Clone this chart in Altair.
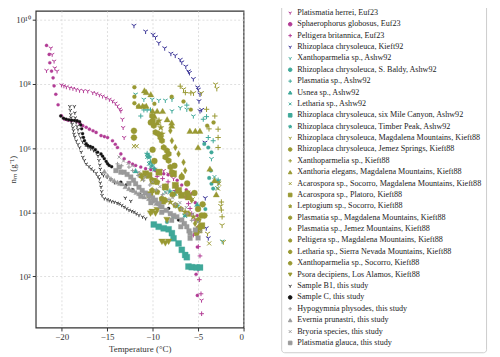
import math
import pandas as pd
import altair as alt

# ---------------- data: (temperature °C, log10 n_m) ----------------
PLATISMATIA_HERREI = [(-21.66, 8.42), (-21.19, 9.12), (-21.04, 8.92), (-20.83, 8.71), (-20.75, 8.50), (-20.5, 8.40),
    (-20.02, 7.97), (-19.75, 7.94), (-19.48, 7.91), (-19.1, 7.88), (-18.76, 7.86), (-18.4, 7.83), (-18.03, 7.80),
    (-17.6, 7.79), (-17.13, 7.78), (-16.58, 7.73), (-16.2, 7.70), (-15.85, 7.66), (-15.5, 7.62), (-15.13, 7.57),
    (-14.75, 7.52), (-14.41, 7.47), (-14.1, 7.40), (-13.86, 7.32), (-13.6, 7.22), (-13.49, 7.16), (-13.32, 6.90),
    (-13.24, 6.64), (-13.13, 6.33), (-9.87, 5.35), (-8.78, 5.30), (-8.24, 5.20), (-7.7, 5.05), (-7.33, 4.79),
    (-6.06, 4.63), (-5.0, 2.2), (-4.62, 1.26)]
SPHAEROPHORUS_GLOBOSUS = [(-21.66, 9.20), (-21.37, 8.92), (-21.3, 8.66), (-21.11, 8.40), (-20.94, 8.19), (-20.83, 7.94),
    (-20.64, 7.68), (-20.39, 7.35), (-20.02, 7.01), (-19.66, 6.90), (-19.3, 6.87), (-18.93, 6.85), (-18.32, 6.83),
    (-18.0, 6.77), (-17.67, 6.70), (-17.3, 6.65), (-16.94, 6.59), (-16.55, 6.54), (-16.21, 6.49), (-15.67, 6.39),
    (-15.3, 6.36), (-14.95, 6.33), (-14.41, 6.23), (-14.1, 6.12), (-13.86, 6.02), (-13.49, 5.82), (-13.13, 5.67),
    (-12.59, 5.56), (-12.2, 5.5), (-11.86, 5.46), (-11.3, 5.41), (-10.77, 5.36), (-10.2, 5.33), (-9.68, 5.30),
    (-9.2, 5.25), (-8.78, 5.20), (-8.3, 5.17), (-7.88, 5.15), (-7.3, 5.0), (-6.8, 4.85), (-6.3, 4.7), (-5.7, 4.58),
    (-5.3, 4.3), (-5.1, 3.9), (-5.08, 2.92), (-5.22, 2.07), (-5.08, 1.41)]
PELTIGERA_BRITANNICA = [(-9.5, 5.12), (-8.9, 5.05), (-8.3, 4.95), (-7.5, 4.68), (-6.42, 4.48), (-6.06, 4.27), (-5.88, 4.12),
    (-5.7, 3.96), (-5.33, 3.76), (-4.97, 3.55), (-5.52, 3.29), (-4.97, 2.93), (-4.79, 2.64), (-4.86, 1.90),
    (-4.68, 1.46), (-4.61, 0.84)]
RHIZOPLACA_KIEFT92 = [(-12.05, 9.82), (-10.77, 9.64), (-9.95, 9.54), (-9.68, 9.46), (-9.32, 9.28), (-8.67, 9.12),
    (-7.99, 8.95), (-7.51, 8.89), (-6.96, 8.76), (-6.79, 8.68), (-6.35, 8.55), (-6.06, 8.40), (-5.95, 8.35),
    (-5.52, 8.16), (-5.05, 7.90), (-4.97, 7.83), (-4.79, 7.68), (-4.90, 7.47), (-4.61, 7.20), (-4.79, 7.16),
    (-4.24, 6.18), (-4.21, 4.45), (-4.10, 3.51), (-3.88, 3.20)]
XANTHOPARMELIA_ASHW92 = [(-11.87, 7.68), (-10.96, 7.52), (-10.05, 7.52), (-9.32, 7.49), (-8.60, 7.49), (-7.87, 7.52),
    (-7.87, 7.16), (-6.96, 7.26), (-6.24, 7.21), (-5.52, 7.0), (-3.53, 5.67), (-2.8, 4.91), (-2.35, 3.1)]
RHIZOPLACA_SBALDY_ASHW92 = [(-4.32, 6.13), (-3.88, 6.02), (-3.53, 5.87), (-3.78, 5.07), (-3.53, 4.89), (-3.34, 4.74),
    (-8.42, 3.70), (-7.7, 3.86), (-4.2, 4.1), (-3.6, 5.3)]
PLASMATIA_ASHW92 = [(-10.96, 7.19), (-10.6, 7.19), (-10.23, 7.19), (-11.3, 7.0), (-6.24, 7.34), (-4.43, 6.9),
    (-4.07, 6.98), (-3.88, 6.33), (-3.34, 6.23)]
USNEA_ASHW92 = [(-11.87, 5.30), (-10.41, 5.77), (-7.6, 4.6), (-5.1, 4.25)]
LETHARIA_ASHW92 = [(-10.6, 5.72), (-10.41, 5.51), (-10.23, 5.41), (-8.6, 4.63), (-4.97, 4.17), (-3.2, 5.1),
    (-2.9, 4.75), (-6.5, 3.9)]
RHIZOPLACA_SIXMILE_ASHW92 = [(-9.87, 3.62), (-9.33, 3.55), (-8.78, 3.50), (-8.24, 3.47), (-7.88, 3.35), (-7.70, 3.19),
    (-7.15, 3.03), (-6.79, 2.83), (-6.42, 2.67), (-6.24, 2.60), (-6.06, 2.31), (-5.70, 2.29), (-5.16, 2.28),
    (-4.79, 2.28)]
RHIZOPLACA_TIMBER_ASHW92 = [(-10.6, 5.82), (-10.41, 5.72), (-10.23, 5.56), (-10.05, 5.46), (-9.8, 5.35), (-8.1, 4.65),
    (-7.3, 4.2), (-6.4, 3.9), (-2.8, 4.99)]
RHIZOPLACA_MAGDALENA_K88 = [(-3.08, 7.99), (-2.94, 7.86), (-6.6, 7.84), (-5.5, 7.72), (-4.65, 7.72), (-2.8, 4.94),
    (-3.96, 3.34), (-2.36, 3.60), (-2.22, 3.08), (-2.5, 4.2)]
RHIZOPLACA_JEMEZ_K88 = [(-12.0, 7.9), (-12.0, 7.6), (-12.0, 7.4), (-11.6, 7.3), (-10.9, 7.3), (-9.8, 7.38),
    (-7.9, 7.6), (-6.6, 7.45), (-5.8, 7.2), (-4.0, 6.7), (-3.3, 6.8)]
XANTHOPARMELIA_K88 = [(-6.96, 7.93), (-6.4, 7.73), (-5.8, 7.72), (-4.07, 7.21), (-3.16, 7.0), (-2.8, 6.59),
    (-2.8, 6.33), (-2.8, 6.02), (-2.44, 4.32), (-2.44, 4.07), (-2.36, 3.86), (-3.8, 6.6)]
XANTHORIA_K88 = [(-10.9, 7.8), (-10.7, 7.75), (-10.2, 7.68), (-11.5, 7.32), (-11.1, 7.32), (-10.7, 7.32),
    (-10.0, 7.16), (-9.5, 7.16), (-8.9, 7.16), (-9.8, 7.0), (-9.5, 6.8), (-7.9, 6.8), (-8.4, 6.9), (-7.9, 6.7),
    (-5.9, 6.54), (-5.3, 6.54), (-4.8, 6.54), (-5.0, 6.03), (-3.7, 5.36), (-3.2, 5.0), (-3.0, 4.56)]
ACAROSPORA_SOCORRO_K88 = [(-12.05, 6.06), (-11.75, 6.06), (-3.78, 3.03), (-2.69, 4.89), (-2.8, 4.74), (-7.0, 4.6),
    (-5.6, 4.4)]
ACAROSPORA_PLATORO_K88 = [(-10.77, 5.20), (-10.4, 5.15), (-9.3, 5.25), (-7.7, 5.2), (-9.9, 4.97), (-8.6, 4.79),
    (-7.5, 4.84), (-7.15, 4.68), (-6.8, 4.53), (-6.06, 4.48), (-10.3, 4.55), (-8.9, 4.35), (-4.6, 3.58), (-4.9, 3.45)]
LEPTOGIUM_K88 = [(-9.3, 6.85), (-9.1, 6.64), (-8.97, 6.44), (-11.1, 5.05), (-8.05, 4.32), (-6.42, 4.01), (-5.52, 3.86)]
PLASMATIA_MAGDALENA_K88 = [(-10.05, 7.0), (-9.98, 6.85), (-9.87, 6.70), (-9.68, 6.49), (-9.33, 6.44), (-9.14, 6.33),
    (-8.97, 6.23), (-8.78, 6.02), (-8.42, 5.92), (-8.24, 5.82), (-8.6, 5.72), (-8.24, 5.61), (-8.05, 5.41),
    (-7.88, 5.25)]
PLASMATIA_JEMEZ_K88 = [(-8.05, 6.54), (-7.88, 6.23), (-7.5, 6.02), (-7.15, 5.82), (-6.6, 5.56), (-6.42, 5.30),
    (-6.8, 5.15), (-5.7, 4.38), (-5.33, 3.65)]
PELTIGERA_MAGDALENA_K88 = [(-11.3, 5.15), (-10.05, 5.0), (-9.5, 4.94), (-10.05, 4.68), (-9.5, 4.63), (-8.97, 4.43),
    (-8.6, 4.38), (-7.5, 4.22), (-6.9, 4.1), (-6.06, 3.95), (-4.97, 3.76), (-4.79, 3.55), (-5.16, 3.34)]
LETHARIA_SIERRA_K88 = [(-12.05, 6.54), (-12.05, 6.33), (-8.6, 4.79), (-7.8, 4.55), (-6.2, 4.6), (-4.5, 4.25),
    (-4.3, 3.9)]
XANTHOPARMELIA_SOCORRO_K88 = [(-10.2, 6.8), (-10.0, 5.95), (-9.8, 5.6), (-7.6, 5.45), (-6.8, 5.1), (-6.2, 4.9),
    (-5.4, 4.6), (-5.0, 4.1), (-4.6, 3.9)]
PSORA_K88 = [(-10.23, 3.96), (-9.68, 3.96), (-10.05, 4.01), (-9.5, 4.07), (-8.42, 3.76), (-8.97, 3.08),
    (-8.6, 3.03), (-8.24, 3.08)]
SAMPLE_B1 = [(-19.1, 7.30), (-19.05, 7.18), (-19.0, 7.05), (-18.97, 6.95), (-18.93, 6.85), (-18.85, 6.75),
    (-18.76, 6.64), (-18.7, 6.55), (-18.65, 6.44), (-18.55, 6.35), (-18.39, 6.23), (-18.2, 6.12), (-18.03, 6.02),
    (-17.85, 5.88), (-17.67, 5.72), (-17.5, 5.62), (-17.30, 5.51), (-17.0, 5.43), (-16.76, 5.36), (-16.5, 5.30),
    (-16.21, 5.22), (-16.0, 5.12), (-15.85, 5.05), (-15.75, 4.92), (-15.67, 4.79), (-15.6, 4.65), (-15.56, 4.53),
    (-15.31, 4.43), (-15.0, 4.40), (-14.77, 4.37), (-14.5, 4.34), (-14.22, 4.32), (-13.9, 4.29), (-13.68, 4.27),
    (-13.4, 4.22), (-13.13, 4.17), (-12.85, 4.12), (-12.59, 4.07), (-12.3, 4.04), (-12.05, 4.01), (-11.8, 3.96),
    (-11.50, 3.91), (-11.1, 3.86), (-10.77, 3.81),
    (-18.6, 7.3), (-18.55, 7.1), (-18.5, 6.95), (-18.4, 6.8), (-18.3, 6.68), (-18.2, 6.58), (-18.1, 6.45),
    (-17.9, 6.33), (-17.7, 6.2), (-17.4, 6.1), (-17.1, 6.03), (-16.8, 5.98), (-16.5, 5.93), (-16.2, 5.86),
    (-16.0, 5.76), (-15.9, 5.62), (-15.8, 5.48), (-15.75, 5.35), (-15.6, 5.22), (-15.4, 5.15), (-15.0, 5.10),
    (-14.6, 5.02), (-14.2, 4.93), (-13.0, 4.45), (-12.4, 4.35)]
SAMPLE_C = [(-20.1, 7.0), (-19.8, 6.93), (-19.5, 6.9), (-19.2, 6.88), (-18.9, 6.87), (-18.6, 6.86), (-18.3, 6.85),
    (-18.03, 6.82), (-17.9, 6.72), (-17.8, 6.6), (-17.7, 6.45), (-17.6, 6.33), (-17.49, 6.23), (-17.3, 6.14),
    (-17.13, 6.08), (-16.85, 6.05), (-16.58, 6.02), (-16.3, 5.95), (-16.04, 5.87), (-15.67, 5.82), (-15.5, 5.75),
    (-15.31, 5.67), (-15.1, 5.58), (-14.95, 5.51), (-14.77, 5.46), (-14.5, 5.42), (-13.5, 4.94), (-12.9, 4.85),
    (-12.2, 4.7), (-11.4, 4.55), (-8.24, 4.12), (-7.15, 3.76), (-6.6, 3.65)]
HYPOGYMNIA = [(-13.86, 5.51), (-13.4, 5.45), (-12.6, 5.41), (-12.2, 5.3), (-11.6, 5.15), (-11.0, 5.0), (-10.3, 4.85),
    (-9.6, 4.7), (-8.9, 4.55), (-8.2, 4.4), (-7.5, 4.25), (-6.8, 4.1), (-6.2, 3.95), (-5.7, 3.75)]
EVERNIA = [(-15.3, 5.28), (-14.95, 5.15), (-14.58, 5.05), (-14.22, 4.99), (-13.86, 4.94), (-13.6, 4.9), (-13.32, 4.89),
    (-13.0, 4.8), (-12.6, 4.74), (-12.3, 4.7), (-12.05, 4.68), (-11.8, 4.62), (-11.5, 4.58), (-11.2, 4.52),
    (-10.9, 4.48), (-10.41, 4.43), (-10.0, 4.35), (-9.6, 4.28), (-9.2, 4.2)]
BRYORIA = [(-13.68, 5.72), (-13.2, 5.6), (-12.7, 5.52), (-12.2, 5.45), (-11.5, 5.25), (-10.8, 5.1), (-10.0, 4.95),
    (-9.2, 4.8), (-8.5, 4.6), (-7.8, 4.45), (-7.0, 4.3), (-6.3, 4.15), (-5.6, 3.95), (-5.0, 3.7), (-4.7, 3.4)]
PLATISMATIA_GLAUCA = [(-14.04, 5.30), (-13.68, 5.41), (-13.49, 5.25), (-13.13, 5.25), (-12.8, 5.18), (-12.4, 5.10),
    (-12.1, 5.0), (-11.87, 4.89), (-11.5, 4.78), (-11.14, 4.68), (-10.8, 4.6), (-10.41, 4.53), (-10.0, 4.45),
    (-9.68, 4.38), (-9.3, 4.27), (-8.97, 4.17), (-8.5, 4.06), (-8.05, 3.96), (-7.7, 3.9), (-7.33, 3.86),
    (-6.79, 3.76), (-6.5, 3.65), (-6.24, 3.55), (-6.0, 3.42), (-5.88, 3.34), (-5.88, 3.19), (-12.6, 4.9),
    (-11.3, 4.5), (-10.2, 4.3), (-9.0, 4.0), (-7.9, 3.75), (-6.9, 3.55), (-5.3, 3.45), (-5.0, 3.2)]

SERIES = [
    ("Platismatia herrei, Euf23", PLATISMATIA_HERREI),
    ("Sphaerophorus globosus, Euf23", SPHAEROPHORUS_GLOBOSUS),
    ("Peltigera britannica, Euf23", PELTIGERA_BRITANNICA),
    ("Rhizoplaca chrysoleuca, Kieft92", RHIZOPLACA_KIEFT92),
    ("Xanthoparmelia sp., Ashw92", XANTHOPARMELIA_ASHW92),
    ("Rhizoplaca chrysoleuca, S. Baldy, Ashw92", RHIZOPLACA_SBALDY_ASHW92),
    ("Plasmatia sp., Ashw92", PLASMATIA_ASHW92),
    ("Usnea sp., Ashw92", USNEA_ASHW92),
    ("Letharia sp., Ashw92", LETHARIA_ASHW92),
    ("Rhizoplaca chrysoleuca, six Mile Canyon, Ashw92", RHIZOPLACA_SIXMILE_ASHW92),
    ("Rhizoplaca chrysoleuca, Timber Peak, Ashw92", RHIZOPLACA_TIMBER_ASHW92),
    ("Rhizoplaca chrysoleuca, Magdalena Mountains, Kieft88", RHIZOPLACA_MAGDALENA_K88),
    ("Rhizoplaca chrysoleuca, Jemez Springs, Kieft88", RHIZOPLACA_JEMEZ_K88),
    ("Xanthoparmelia sp., Kieft88", XANTHOPARMELIA_K88),
    ("Xanthoria elegans, Magdalena Mountains, Kieft88", XANTHORIA_K88),
    ("Acarospora sp., Socorro, Magdalena Mountains, Kieft88", ACAROSPORA_SOCORRO_K88),
    ("Acarospora sp., Platoro, Kieft88", ACAROSPORA_PLATORO_K88),
    ("Leptogium sp., Socorro, Kieft88", LEPTOGIUM_K88),
    ("Plasmatia sp., Magdalena Mountains, Kieft88", PLASMATIA_MAGDALENA_K88),
    ("Plasmatia sp., Jemez Mountains, Kieft88", PLASMATIA_JEMEZ_K88),
    ("Peltigera sp., Magdalena Mountains, Kieft88", PELTIGERA_MAGDALENA_K88),
    ("Letharia sp., Sierra Nevada Mountains, Kieft88", LETHARIA_SIERRA_K88),
    ("Xanthoparmelia sp., Socorro, Kieft88", XANTHOPARMELIA_SOCORRO_K88),
    ("Psora decipiens, Los Alamos, Kieft88", PSORA_K88),
    ("Sample B1, this study", SAMPLE_B1),
    ("Sample C, this study", SAMPLE_C),
    ("Hypogymnia physodes, this study", HYPOGYMNIA),
    ("Evernia prunastri, this study", EVERNIA),
    ("Bryoria species, this study", BRYORIA),
    ("Platismatia glauca, this study", PLATISMATIA_GLAUCA),
]

# ---------------- styles ----------------
def poly(n, r=1.0, start=-90.0):
    pts = []
    for i in range(n):
        a = math.radians(start + 360.0 * i / n)
        pts.append(f"{r*math.cos(a):.3f},{r*math.sin(a):.3f}")
    return "M" + "L".join(pts) + "Z"

def star(r_out=1.0, r_in=0.4):
    pts = []
    for i in range(10):
        r = r_out if i % 2 == 0 else r_in
        a = math.radians(-90 + 36 * i)
        pts.append(f"{r*math.cos(a):.3f},{r*math.sin(a):.3f}")
    return "M" + "L".join(pts) + "Z"

TRI = "M0,0L0,1M0,0L-0.866,-0.5M0,0L0.866,-0.5"
PLUS = "M-1,0L1,0M0,-1L0,1"
XMARK = "M-0.75,-0.75L0.75,0.75M-0.75,0.75L0.75,-0.75"
MARKERS = {
    "1": (TRI, True), ".": ("circle", False), "+": (PLUS, True), "^": ("triangle-up", False),
    "x": (XMARK, True), "s": ("square", False), "*": (star(), False), "h": (poly(6), False),
    "d": ("M0,-1L0.6,0L0,1L-0.6,0Z", False), "p": (poly(5), False), "8": (poly(8), False),
    "o": ("circle", False), "v": ("triangle-down", False),
}
PINK, INDIGO, TEAL, OLIVE, DARK, BLACK, GRAY = "#b23c95", "#3b3597", "#3fa899", "#999933", "#3a3a3a", "#111111", "#9a9a9a"
STYLE = [
    (PINK, "1", 24), (PINK, ".", 10), (PINK, "+", 22),
    (INDIGO, "1", 30),
    (TEAL, "1", 28), (TEAL, ".", 14), (TEAL, "+", 26), (TEAL, "^", 30), (TEAL, "x", 26), (TEAL, "s", 36), (TEAL, "*", 40),
    (OLIVE, "1", 36), (OLIVE, ".", 16), (OLIVE, "+", 30), (OLIVE, "^", 40), (OLIVE, "x", 30), (OLIVE, "s", 40),
    (OLIVE, "*", 50), (OLIVE, "h", 40), (OLIVE, "d", 45), (OLIVE, "p", 40), (OLIVE, "8", 40), (OLIVE, "o", 36),
    (OLIVE, "v", 45),
    (DARK, "1", 16), (BLACK, ".", 9), (GRAY, "+", 16), (GRAY, "^", 26), (GRAY, "x", 16), (GRAY, "s", 22),
]

names = [s[0] for s in SERIES]
colors = [st[0] for st in STYLE]
shapes = [MARKERS[st[1]][0] for st in STYLE]

rows = []
for (name, pts), (col, mk, sz) in zip(SERIES, STYLE):
    is_line = MARKERS[mk][1]
    for t, lg in pts:
        rows.append({"T": t, "n": 10 ** lg, "series": name, "size": sz, "sw": 1.0 if is_line else 0.3})
df = pd.DataFrame(rows)

SERIF = "Liberation Serif"
legend = alt.Legend(title=None, orient="none", legendX=248, legendY=-7, labelFont=SERIF, labelFontSize=8.2,
                    labelLimit=400, symbolSize=13, symbolStrokeWidth=1, rowPadding=2.5, padding=5,
                    strokeColor="#cccccc", cornerRadius=3, fillColor="white", labelOffset=3, labelColor="#222")

ylab = ("datum.value > 5e9 ? '10¹⁰' : datum.value > 5e7 ? '10⁸' : datum.value > 5e5 ? '10⁶' : "
        "datum.value > 5e3 ? '10⁴' : '10²'")

chart = alt.Chart(df).mark_point(filled=True, opacity=1).encode(
    x=alt.X("T:Q", scale=alt.Scale(domain=[-22.85, 0], nice=False, zero=False),
            axis=alt.Axis(values=[-20, -15, -10, -5, 0], title="Temperature (°C)")),
    y=alt.Y("n:Q", scale=alt.Scale(type="log", domain=[10 ** 0.41, 10 ** 10.28], nice=False),
            axis=alt.Axis(values=[1e2, 1e4, 1e6, 1e8, 1e10], labelExpr=ylab, title="nₘ (g⁻¹)",
                          titleX=-18, titleBaseline="bottom")),
    fill=alt.Fill("series:N", sort=names, scale=alt.Scale(domain=names, range=colors), legend=legend),
    stroke=alt.Stroke("series:N", sort=names, scale=alt.Scale(domain=names, range=colors), legend=legend),
    shape=alt.Shape("series:N", sort=names, scale=alt.Scale(domain=names, range=shapes), legend=legend),
    size=alt.Size("size:Q", scale=None),
    strokeWidth=alt.StrokeWidth("sw:Q", scale=None),
).properties(
    width=210, height=320,
    autosize=alt.AutoSizeParams(type="none"),
    padding={"left": 28, "top": 1, "right": 251, "bottom": 28},
).configure_view(
    stroke="#333333", strokeWidth=1.2
).configure_axis(
    labelFont=SERIF, labelFontSize=9, labelColor="#333", titleFont=SERIF, titleFontSize=9, titleColor="#333",
    titleFontWeight="normal", grid=True, gridColor="#d0d0d0", gridDash=[2, 2], gridWidth=0.7,
    domain=False, tickColor="#333", tickSize=3.5, labelPadding=2,
).configure_axisX(titlePadding=3)

chart.save("out.html", embed_options={"renderer": "svg", "actions": False})
